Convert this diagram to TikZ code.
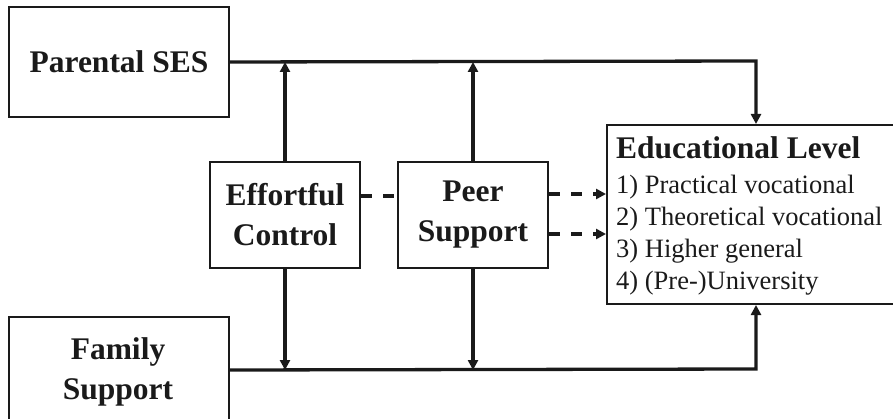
\documentclass[tikz,border=0pt]{standalone}
\usepackage{fontspec}
\setmainfont{Liberation Serif}
\usetikzlibrary{arrows.meta}
\definecolor{ink}{HTML}{1A1A1A}
\begin{document}
\begin{tikzpicture}[x=1pt,y=-1pt,
  box/.style={draw=ink,line width=2pt,rectangle,inner sep=0pt,anchor=north west,text=ink},
  bigtxt/.style={font=\fontsize{31.5}{40}\selectfont\bfseries,align=center,text=ink},
  itemtxt/.style={font=\fontsize{26.5}{33}\selectfont,anchor=base west,inner sep=0pt,text=ink},
  link/.style={draw=ink,line width=3.3pt},
  arr/.style={link,-{Triangle[length=10pt,width=10pt]}},
  dasharr/.style={arr,dash pattern=on 11pt off 11pt}]
\useasboundingbox (0,0) rectangle (893,419);

% boxes
\node[box,minimum width=220pt,minimum height=110pt] (ses) at (8,6) {};
\node[bigtxt] (sest) at (ses.center) {Parental SES};
\node[box,minimum width=220pt,minimum height=106pt] (fs) at (8,316) {};
\node[bigtxt] (fst) at (118,372) {Family\\Support};
\node[box,minimum width=150pt,minimum height=106pt] (ec) at (209,161) {};
\node[bigtxt] (ect) at (ec.center) {Effortful\\Control};
\node[box,minimum width=150pt,minimum height=106pt] (pe) at (397,161) {};
\node[bigtxt] (pet) at (pe.center) {Peer\\Support};
\node[box,minimum width=300pt,minimum height=179pt] (edu) at (606,124) {};

% outcome labels
\node[itemtxt,font=\fontsize{31.5}{40}\selectfont\bfseries] (l0) at (616,159) {Educational Level};
\node[itemtxt] (l1) at (616,194) {1) Practical vocational};
\node[itemtxt] (l2) at (616,226) {2) Theoretical vocational};
\node[itemtxt] (l3) at (616,258) {3) Higher general};
\node[itemtxt] (l4) at (616,290) {4) (Pre-)University};

% direct paths
\coordinate (tr) at (756,61);
\coordinate (br) at (756,369);
\draw[arr] (ses.east) -- (tr) -- (tr |- edu.north);
\draw[arr] (fs.east) -- (br) -- (br |- edu.south);

% moderators onto the direct paths
\draw[arr] (ec.north) -- (ec.north |- ses.east);
\draw[arr] (pe.north) -- (pe.north |- ses.east);
\draw[arr] (ec.south) -- (ec.south |- fs.east);
\draw[arr] (pe.south) -- (pe.south |- fs.east);

% dashed links
\draw[link,dash pattern=on 11pt off 11pt] ([yshift=19pt]ec.east) -- ([yshift=19pt]pe.west);
\draw[dasharr] ([yshift=21pt]pe.east) -- ([yshift=21pt]pe.east -| edu.west);
\draw[dasharr] ([yshift=-19pt]pe.east) -- ([yshift=-19pt]pe.east -| edu.west);
\end{tikzpicture}
\end{document}
